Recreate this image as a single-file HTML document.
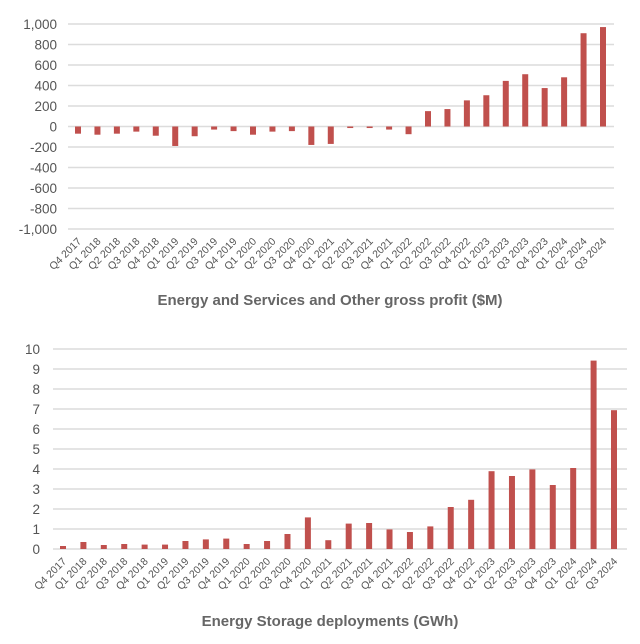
<!DOCTYPE html>
<html><head><meta charset="utf-8"><style>
body{margin:0;background:#fff;}
svg{display:block;font-family:"Liberation Sans",sans-serif;}
</style></head><body>
<svg id="c" width="640" height="644"></svg>
<script>
const categories=["Q4 2017","Q1 2018","Q2 2018","Q3 2018","Q4 2018","Q1 2019","Q2 2019","Q3 2019","Q4 2019","Q1 2020","Q2 2020","Q3 2020","Q4 2020","Q1 2021","Q2 2021","Q3 2021","Q4 2021","Q1 2022","Q2 2022","Q3 2022","Q4 2022","Q1 2023","Q2 2023","Q3 2023","Q4 2023","Q1 2024","Q2 2024","Q3 2024"];
const profitValues=[-70,-80,-70,-50,-90,-190,-95,-30,-45,-80,-50,-45,-180,-170,-15,-15,-30,-75,150,170,255,305,445,510,375,480,910,970];
const storageValues=[0.15,0.35,0.2,0.25,0.22,0.22,0.4,0.48,0.52,0.25,0.4,0.75,1.58,0.44,1.27,1.3,0.98,0.85,1.13,2.1,2.46,3.89,3.65,3.98,3.2,4.05,9.42,6.94];
const profitTicks=[1000,800,600,400,200,0,-200,-400,-600,-800,-1000];
const storageTicks=[10,9,8,7,6,5,4,3,2,1,0];
const NS="http://www.w3.org/2000/svg";
const svg=document.getElementById('c');
function el(t,a,txt){const e=document.createElementNS(NS,t);for(const k in a)e.setAttribute(k,a[k]);if(txt!==undefined)e.textContent=txt;svg.appendChild(e);return e;}
function chart(cfg){
  const y=v=>cfg.y0+(v-cfg.vmin)/(cfg.vmax-cfg.vmin)*(cfg.y1-cfg.y0);
  const x=i=>cfg.xf+i*(cfg.xl-cfg.xf)/(categories.length-1);
  cfg.ticks.forEach(t=>{
    const g=el('line',{x1:cfg.gx0,x2:cfg.gx1,y1:y(t),y2:y(t),stroke:'#dcdcdc','stroke-width':1.5});
    
    
    const l=el('text',{x:cfg.lx,y:y(t)+5,'text-anchor':'end','font-size':13.5,fill:'#555'},t.toLocaleString('en-US'));
    
    
  });
  cfg.vals.forEach((v,i)=>{
    const a=y(Math.max(v,0)),b=y(Math.min(v,0));
    const r=el('rect',{x:x(i)-3,y:Math.min(a,b),width:6,height:Math.abs(b-a),fill:'#c0504d'});
    
    
    const tx=x(i)+4,ty=cfg.ly;
    const l=el('text',{x:tx,y:ty,'text-anchor':'end','font-size':10.5,fill:'#555',transform:`rotate(-45 ${tx} ${ty})`},categories[i]);
    
    
  });
  const t=el('text',{x:cfg.tx,y:cfg.ty,'text-anchor':'middle','font-size':15,'font-weight':'bold',fill:'#666'},cfg.title);
  
  
}
chart({p:'profit',vals:profitValues,ticks:profitTicks,vmin:1000,vmax:-1000,y0:24,y1:229,gx0:68,gx1:614,lx:57,xf:78,xl:603,ly:242,tx:330,ty:305,title:'Energy and Services and Other gross profit ($M)'});
chart({p:'storage',vals:storageValues,ticks:storageTicks,vmin:10,vmax:0,y0:349,y1:549,gx0:53,gx1:627,lx:40,xf:63,xl:614,ly:562,tx:330,ty:626,title:'Energy Storage deployments (GWh)'});
</script>
</body></html>
